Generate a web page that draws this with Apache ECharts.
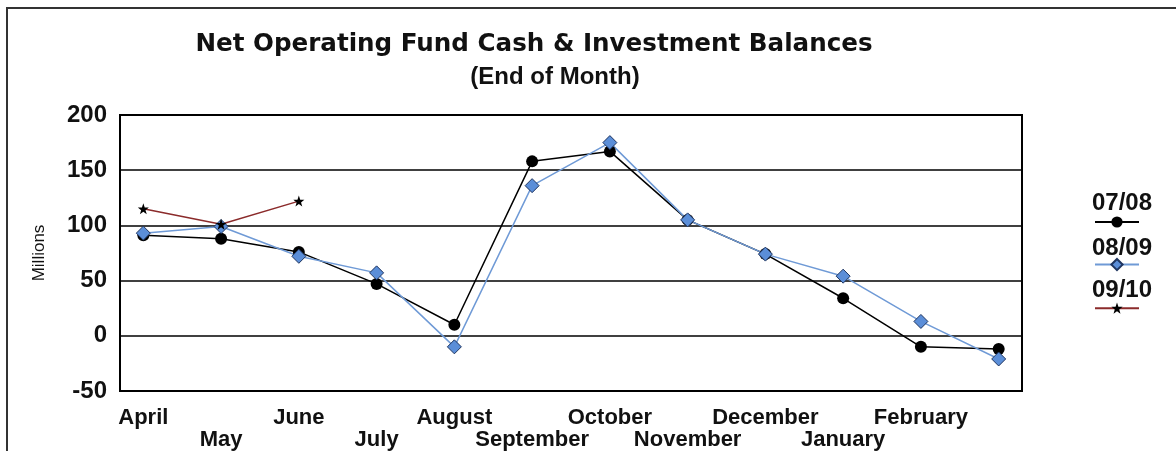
<!DOCTYPE html>
<html>
<head>
<meta charset="utf-8">
<script src="https://cdn.jsdelivr.net/npm/echarts/dist/echarts.min.js"></script>
<style>
  html, body { margin: 0; padding: 0; background: #fff; }
  #main { width: 1176px; height: 451px; }
</style>
</head>
<body>
<div id="main"></div>
<script>
// month order of the fiscal year
var months = ['April', 'May', 'June', 'July', 'August', 'September', 'October',
  'November', 'December', 'January', 'February', 'March'];
// net balances, millions
var fy0708 = [91, 88, 76, 47, 10, 158, 167, 105, 74, 34, -10, -12];
var fy0809 = [93, 99, 72, 57, -10, 136, 175, 105, 74, 54, 13, -21];
var fy0910 = [115, 101, 122];
var seriesNames = ['07/08', '08/09', '09/10'];
var yMin = -50, yMax = 200, yStep = 50;

function pairs(arr) {
  return arr.map(function (v, i) { return [i, v]; });
}
var monthIdx = months.map(function (m, i) { return i; });

var myChart = echarts.init(document.getElementById('main'));
myChart.setOption({
  animation: false,
  backgroundColor: '#fff',
  title: [
    {
      text: 'Net Operating Fund Cash & Investment Balances',
      left: 534, top: 32, padding: 0, textAlign: 'center',
      textStyle: { fontFamily: 'DejaVu Sans', fontWeight: 'bold', fontSize: 24.6, color: '#111' }
    },
    {
      text: '(End of Month)',
      left: 555, top: 65, padding: 0, textAlign: 'center',
      textStyle: { fontFamily: 'Liberation Sans', fontWeight: 'bold', fontSize: 24, color: '#111' }
    }
  ],
  legend: {
    orient: 'vertical',
    left: 1094, top: 215,
    itemWidth: 44, itemHeight: 14, itemGap: 30,
    padding: 0,
    formatter: function () { return ''; },
    data: seriesNames
  },
  graphic: [
    {
      type: 'rect', silent: true, z: -10,
      shape: { x: 7, y: 8, width: 1300, height: 600 },
      style: { fill: null, stroke: '#333', lineWidth: 2 }
    }
  ].concat(seriesNames.map(function (n, i) {
    return {
      type: 'text', silent: true,
      x: 1122, y: [203, 248, 290][i],
      style: {
        text: n, align: 'center', verticalAlign: 'middle',
        font: 'bold 24px "Liberation Sans"', fill: '#111'
      }
    };
  })),
  grid: {
    left: 120, top: 115, right: 154, bottom: 60,
    show: true, borderColor: '#000', borderWidth: 2, backgroundColor: '#fff'
  },
  xAxis: {
    type: 'value',
    min: -0.3, max: 11.3,
    axisLine: { show: false },
    axisTick: { show: false },
    splitLine: { show: false },
    axisLabel: {
      customValues: monthIdx,
      margin: 16,
      lineHeight: 22,
      fontFamily: 'Liberation Sans', fontWeight: 'bold', fontSize: 22, color: '#111',
      formatter: function (v) {
        var i = Math.round(v);
        return i % 2 === 0 ? months[i] : '\n' + months[i];
      }
    }
  },
  yAxis: {
    type: 'value',
    min: yMin, max: yMax, interval: yStep,
    name: 'Millions',
    nameLocation: 'middle',
    nameGap: 72,
    nameRotate: 90,
    nameTextStyle: { fontFamily: 'Liberation Sans', fontSize: 17, color: '#111' },
    axisLine: { show: false },
    axisTick: { show: false },
    splitLine: { show: true, lineStyle: { color: '#000', width: 1.5 } },
    axisLabel: {
      margin: 13,
      fontFamily: 'Liberation Sans', fontWeight: 'bold', fontSize: 24, color: '#111'
    }
  },
  series: [
    {
      name: seriesNames[0], type: 'line', data: pairs(fy0708),
      symbol: 'circle', symbolSize: 12,
      lineStyle: { color: '#000', width: 1.5 },
      itemStyle: { color: '#000' }
    },
    {
      name: seriesNames[1], type: 'line', data: pairs(fy0809),
      symbol: 'diamond', symbolSize: 14,
      lineStyle: { color: '#6f9ad6', width: 1.5 },
      itemStyle: { color: '#5b8ed8', borderColor: '#1f3560', borderWidth: 1 }
    },
    {
      name: seriesNames[2], type: 'line', data: pairs(fy0910),
      symbol: 'path://M0,-10 L2.4,-3.2 9.5,-3.1 3.8,1.2 5.9,8.1 0,4 -5.9,8.1 -3.8,1.2 -9.5,-3.1 -2.4,-3.2 Z',
      symbolSize: 11,
      lineStyle: { color: '#8b2b2b', width: 1.5 },
      itemStyle: { color: '#000' }
    }
  ]
});
</script>
</body>
</html>
